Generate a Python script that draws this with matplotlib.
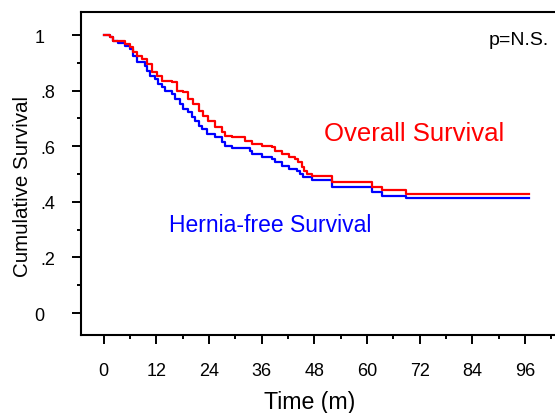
import matplotlib
matplotlib.use("Agg")
import matplotlib.pyplot as plt
from matplotlib.ticker import MultipleLocator, FixedLocator

plt.rcParams['font.family'] = ['Liberation Sans', 'DejaVu Sans']

# Overall survival (Kaplan-Meier step points: time in months, survival after step)
os_time = [0, 1.4, 2.2, 4.9, 6.0, 6.7, 7.5, 8.7, 9.8, 10.9, 12.1, 13.2, 15.5, 16.6,
           18.1, 19.3, 20.4, 21.6, 22.7, 23.8, 25.4, 26.9, 27.6, 29.2, 32.2, 33.7,
           36.0, 38.3, 39.0, 40.6, 42.1, 43.6, 44.3, 45.1, 45.6, 46.4, 47.4, 52.0,
           61.1, 63.3, 68.9, 96.8]
os_surv = [1.0, 0.992, 0.977, 0.968, 0.956, 0.938, 0.926, 0.914, 0.896, 0.866, 0.854,
           0.836, 0.830, 0.800, 0.794, 0.770, 0.752, 0.728, 0.710, 0.692, 0.670, 0.650,
           0.638, 0.632, 0.620, 0.608, 0.602, 0.596, 0.584, 0.572, 0.560, 0.554, 0.542,
           0.524, 0.512, 0.500, 0.494, 0.470, 0.452, 0.444, 0.428, 0.428]

# Hernia-free survival
hf_time = [0, 1.4, 2.2, 3.3, 4.9, 6.0, 6.7, 7.5, 9.4, 9.8, 10.6, 11.7, 12.4, 13.2,
           14.0, 15.5, 16.2, 17.4, 18.1, 19.3, 20.1, 20.8, 21.6, 22.3, 23.5, 25.4,
           26.9, 27.6, 29.2, 33.3, 33.7, 36.0, 38.3, 39.0, 40.6, 42.1, 44.0, 44.7,
           45.5, 47.4, 52.0, 61.1, 63.3, 68.9, 96.8]
hf_surv = [1.0, 0.992, 0.977, 0.971, 0.962, 0.950, 0.926, 0.904, 0.890, 0.872, 0.854,
           0.842, 0.824, 0.812, 0.800, 0.788, 0.770, 0.752, 0.734, 0.722, 0.704, 0.692,
           0.674, 0.662, 0.644, 0.632, 0.614, 0.602, 0.592, 0.584, 0.572, 0.560, 0.554,
           0.542, 0.530, 0.518, 0.512, 0.500, 0.488, 0.478, 0.455, 0.436, 0.421, 0.413,
           0.413]

x_ticks = [0, 12, 24, 36, 48, 60, 72, 84, 96]
y_ticks = [0, 0.2, 0.4, 0.6, 0.8, 1.0]
# integers padded with a figure space so they line up on the decimal point
y_tick_labels = ['0\u2007', '.2', '.4', '.6', '.8', '1\u2007']

fig = plt.figure(figsize=(5.55, 4.14), dpi=100)
ax = fig.add_axes([81/555, (414-335.7)/414, 1 - 81/555, (335.7-13)/414])

ax.step(hf_time, hf_surv, where='post', color='#0000ff', lw=1.6)
ax.step(os_time, os_surv, where='post', color='#ff0000', lw=1.6)

ax.set_xlim(-5.17, 102.8)
ax.set_ylim(-0.078, 1.083)

ax.xaxis.set_major_locator(FixedLocator(x_ticks))
ax.xaxis.set_minor_locator(MultipleLocator(6))
ax.yaxis.set_major_locator(FixedLocator(y_ticks))
ax.yaxis.set_minor_locator(MultipleLocator(0.1))
ax.set_xticklabels([str(t) for t in x_ticks])
ax.set_yticklabels(y_tick_labels)

ax.tick_params(which='major', direction='out', length=6.5, width=1.4,
               labelsize=13, colors='black')
ax.tick_params(which='minor', direction='out', length=3.2, width=1.4)
ax.tick_params(axis='x', which='major', pad=13)
ax.tick_params(axis='y', which='major', pad=12)

for side in ['left', 'bottom', 'top']:
    ax.spines[side].set_linewidth(1.5)
ax.spines['right'].set_visible(False)

ax.set_xlabel('Time (m)', fontsize=16.7)
ax.xaxis.set_label_coords(0.483, -0.172)
ax.set_ylabel('Cumulative Survival', fontsize=14.8)
ax.yaxis.set_label_coords(-0.104, 0.461)

ax.text(549, 414 - 41, 'p=N.S.', transform=None, ha='right', va='center',
        fontsize=14, color='black')
ax.text(414, 414 - 134, 'Overall Survival', transform=None, ha='center', va='center',
        fontsize=18.5, color='#ff0000')
ax.text(270, 414 - 226, 'Hernia-free Survival', transform=None, ha='center', va='center',
        fontsize=16.5, color='#0000ff')

fig.savefig('out.png', dpi=100)
